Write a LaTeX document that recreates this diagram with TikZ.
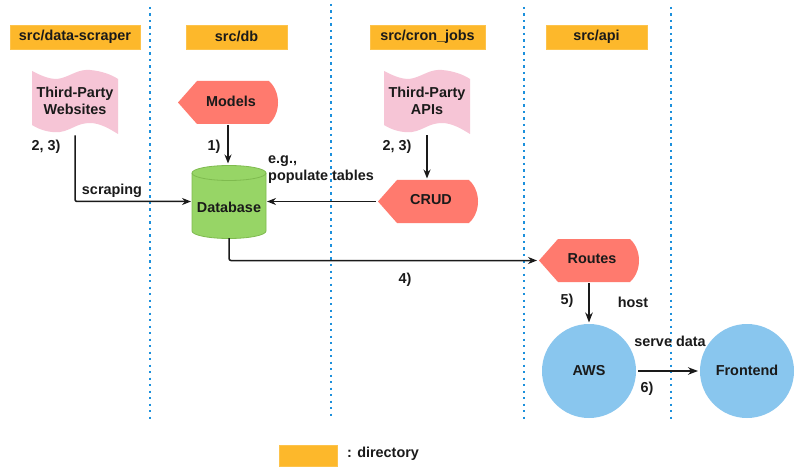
\documentclass[tikz,border=0pt]{standalone}
\usepackage{fontspec}
\setmainfont{Liberation Sans}
\usetikzlibrary{arrows.meta}
\definecolor{dirc}{HTML}{FDB82B}
\definecolor{pinkc}{HTML}{F6C5D6}
\definecolor{redc}{HTML}{FF7A6E}
\definecolor{greenc}{HTML}{97D566}
\definecolor{greend}{HTML}{7FBB4F}
\definecolor{bluec}{HTML}{89C6EE}
\definecolor{dotc}{HTML}{1C90DC}
\definecolor{inkc}{HTML}{1A1A1A}
\tikzset{
  x=1pt,y=-1pt,
  txt/.style={font=\fontsize{14.4}{16.5}\selectfont\bfseries,text=inkc,align=center,inner sep=0pt},
  txtl/.style={txt,align=left},
  dirbox/.style={fill=dirc,draw=dirc!85!white,line width=.5pt,inner sep=0pt,minimum height=24pt,font=\fontsize{14.4}{16.5}\selectfont\bfseries,text=inkc},
  anchorbox/.style={inner sep=0pt,outer sep=0pt},
  sep/.style={dotc,line width=2.6pt,dash pattern=on 2.4pt off 4.1pt},
  conn/.style={inkc,line width=1.5pt,rounded corners=2pt,-{Stealth[length=9pt,width=7pt]}},
  connb/.style={inkc,line width=2.5pt,-{Stealth[length=10pt,width=7.5pt]}},
  circ/.style={circle,fill=bluec,minimum size=94pt,inner sep=0pt,outer sep=0pt,txt},
}
\newcommand{\wavebox}[2]{%
  \fill[pinkc] (#1,71) .. controls (#1+10,76) and (#1+20,81) .. (#1+30,78)
    .. controls (#1+40,75) and (#1+47,69) .. (#1+58,70)
    .. controls (#1+70,71) and (#1+80,75) .. (#1+86,79)
    -- (#1+86,134) .. controls (#1+78,129) and (#1+68,123) .. (#1+58,123)
    .. controls (#1+45,123) and (#1+40,130) .. (#1+28,132)
    .. controls (#1+18,133) and (#1+8,130) .. (#1,125) -- cycle;
  \node[anchorbox,minimum width=86pt,minimum height=61pt] (#2) at (#1+43,102) {};
}
\newcommand{\tagshape}[3]{%
  \fill[redc] (#1,#2) -- (#1+19,#2-21.5) -- (#1+91,#2-21.5)
    .. controls (#1+97,#2-16) and (#1+100,#2-8) .. (#1+100,#2)
    .. controls (#1+100,#2+8) and (#1+97,#2+16) .. (#1+91,#2+21.5)
    -- (#1+19,#2+21.5) -- cycle;
  \node[anchorbox,minimum width=100pt,minimum height=43pt] (#3) at (#1+50,#2) {};
}
\begin{document}
\begin{tikzpicture}
\useasboundingbox (0,0) rectangle (800,473);
\fill[white] (0,0) rectangle (800,473);
% directory tags
\node[dirbox,minimum width=130pt] (dscr) at (75,37) {\raisebox{1pt}{src/data-scraper}};
\node[dirbox,minimum width=101pt] (ddb) at (236.5,37) {\raisebox{1pt}{src/db}};
\node[dirbox,minimum width=115pt] (dcron) at (427.5,37) {\raisebox{1pt}{src/cron\_jobs}};
\node[dirbox,minimum width=101pt] (dapi) at (596.5,37) {\raisebox{1pt}{src/api}};
\node[dirbox,minimum width=58pt,minimum height=21pt] (dleg) at (308,455.5) {};
% shapes
\wavebox{32}{web}
\wavebox{384}{api}
\tagshape{178}{102.5}{models}
\tagshape{378}{201.5}{crud}
\tagshape{539}{260.5}{routes}
% database
\filldraw[fill=greenc,draw=greend,line width=.8pt]
  (192,173) -- (192,231) arc[start angle=180,end angle=0,x radius=37,y radius=7.5]
  -- (266,173) arc[start angle=0,end angle=-180,x radius=37,y radius=7.5] -- cycle;
\draw[greend,line width=.8pt] (192,173) arc[start angle=180,end angle=0,x radius=37,y radius=7.5];
\node[anchorbox,minimum width=74pt,minimum height=73pt] (db) at (229,201.5) {};
% circles
\node[circ] (aws) at (589,371) {\raisebox{1.5pt}{AWS}};
\node[circ] (front) at (747,371) {\raisebox{1.5pt}{Frontend}};
% separators
\coordinate (s1a) at (150,7); \coordinate (s1b) at (150,422);
\coordinate (s2a) at (331,4); \coordinate (s2b) at (331,418);
\coordinate (s3a) at (524,7); \coordinate (s3b) at (524,422);
\coordinate (s4a) at (671,7); \coordinate (s4b) at (671,422);
\draw[sep] (s1a) -- (s1b);
\draw[sep] (s2a) -- (s2b);
\draw[sep] (s3a) -- (s3b);
\draw[sep] (s4a) -- (s4b);
% connectors
\draw[conn] ([yshift=-3pt]web.south) |- ([xshift=-1pt]db.west);
\draw[conn] ([yshift=-1pt]models.south) -- ([yshift=1.5pt]models.south |- db.north);
\draw[conn] ([yshift=-3pt]api.south) -- ([yshift=1.5pt]api.south |- crud.north);
\draw[conn] ([xshift=-2pt]crud.west) -- ([xshift=1pt]db.east);
\draw[conn] (db.south) |- ([xshift=-2pt]routes.west);
\draw[connb] ([yshift=-1pt]routes.south) -- ([yshift=1.5pt]aws.north);
\draw[connb] ([xshift=2pt]aws.east) -- ([xshift=-2pt]front.west);
% texts
\node[txt] (t1) at (75,101) {Third-Party\\Websites};
\node[txt] (t2) at (427,101) {Third-Party\\APIs};
\node[txt] (t3) at (231,101) {Models};
\node[txt] (t4) at (431,200) {CRUD};
\node[txt] (t5) at (592,259) {Routes};
\node[txt] (t6) at (229,207.5) {Database};
\node[txt] (l1) at (46,146.5) {2, 3)};
\node[txt] (l2) at (214,146.5) {1)};
\node[txt] (l3) at (112,190.5) {scraping};
\node[txtl,anchor=west] (l4) at (268,169.5) {e.g.,\\populate tables};
\node[txt] (l5) at (397,146.5) {2, 3)};
\node[txt] (l6) at (405,279.5) {4)};
\node[txt] (l7) at (567,300.5) {5)};
\node[txt] (l8) at (633,302) {host};
\node[txt] (l9) at (670,341.5) {serve data};
\node[txt] (l10) at (647,389) {6)};
\node[txt,anchor=west] (l11) at (347,453.5) {: directory};
\end{tikzpicture}
\end{document}
